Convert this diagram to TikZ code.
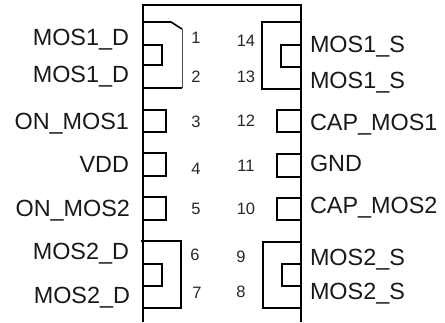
\documentclass[tikz,border=0pt]{standalone}
\usepackage{fontspec}
\setmainfont{Liberation Sans}
\tikzset{
  wire/.style={line width=1.6pt, black, line join=miter},
  thinwire/.style={line width=1pt, black!70},
  sig/.style={inner sep=0pt, outer sep=0pt, font=\fontsize{23.4}{28}\selectfont, text=black!90},
  sigl/.style={sig, anchor=base east},
  sigr/.style={sig, anchor=base west},
  pinno/.style={inner sep=0pt, outer sep=0pt, anchor=base, font=\fontsize{16.5}{20}\selectfont, text=black!85},
}
\begin{document}
\begin{tikzpicture}[x=1pt,y=-1pt]
\useasboundingbox (0,0) rectangle (445,322);
% package outline
\draw[wire] (143,322) -- (143,5) -- (301,5) -- (301,322);
% left pins
\draw[wire] (143,22) -- (171,22) -- (182,29);
\draw[thinwire] (182,29) -- (182,88);
\draw[wire] (182,88) -- (143,88);
\draw[wire] (143,45) -- (162,45) -- (162,65) -- (143,65);
\draw[wire] (143,110) -- (166,110) -- (166,132) -- (143,132);
\draw[wire] (143,153) -- (166,153) -- (166,176) -- (143,176);
\draw[wire] (143,197) -- (166,197) -- (166,220) -- (143,220);
\draw[wire] (141,241) -- (181,241) -- (181,308) -- (143,308);
\draw[wire] (143,264) -- (162,264) -- (162,286) -- (143,286);
% right pins
\draw[wire] (301,22) -- (262,22) -- (262,89) -- (301,89);
\draw[wire] (301,45) -- (281,45) -- (281,67) -- (301,67);
\draw[wire] (301,110) -- (277,110) -- (277,132) -- (301,132);
\draw[wire] (301,154) -- (277,154) -- (277,177) -- (301,177);
\draw[wire] (301,198) -- (277,198) -- (277,220) -- (301,220);
\draw[wire] (301,242) -- (263,242) -- (263,308) -- (301,308);
\draw[wire] (301,264) -- (282,264) -- (282,286) -- (301,286);
% left labels
\node[sigl] (l1) at (129,45) {MOS1\_D};
\node[sigl] (l2) at (129,82) {MOS1\_D};
\node[sigl] (l3) at (129,129) {ON\_MOS1};
\node[sigl] (l4) at (129,172) {VDD};
\node[sigl] (l5) at (130,216) {ON\_MOS2};
\node[sigl] (l6) at (129,259) {MOS2\_D};
\node[sigl] (l7) at (130,303) {MOS2\_D};
% right labels
\node[sigr] (r14) at (310,52) {MOS1\_S};
\node[sigr] (r13) at (310,88) {MOS1\_S};
\node[sigr] (r12) at (310,130) {CAP\_MOS1};
\node[sigr] (r11) at (310,171) {GND};
\node[sigr] (r10) at (310,213) {CAP\_MOS2};
\node[sigr] (r9) at (310,265) {MOS2\_S};
\node[sigr] (r8) at (310,299) {MOS2\_S};
% pin numbers
\node[pinno] (n1) at (196,43) {1};
\node[pinno] (n2) at (196,82) {2};
\node[pinno] (n3) at (196,127) {3};
\node[pinno] (n4) at (196,174) {4};
\node[pinno] (n5) at (196,214) {5};
\node[pinno] (n6) at (195,260) {6};
\node[pinno] (n7) at (197,298) {7};
\node[pinno] (n14) at (246,46) {14};
\node[pinno] (n13) at (246,82) {13};
\node[pinno] (n12) at (246,126) {12};
\node[pinno] (n11) at (246,171) {11};
\node[pinno] (n10) at (246,214) {10};
\node[pinno] (n9) at (241,262) {9};
\node[pinno] (n8) at (241,297) {8};
\end{tikzpicture}
\end{document}
